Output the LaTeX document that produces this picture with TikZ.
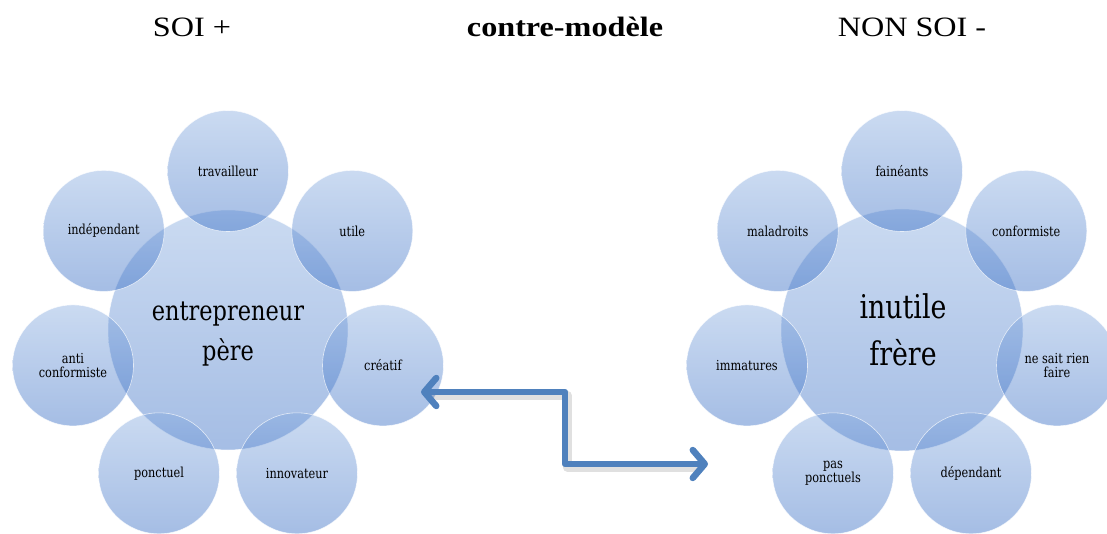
\documentclass[tikz,border=0pt]{standalone}
\usepackage{fontspec}
\setmainfont{Liberation Serif}
\newfontfamily\titlefont[FakeStretch=1.15]{Liberation Serif}
\newfontfamily\circfont[FakeStretch=0.82]{DejaVu Serif}
\usetikzlibrary{arrows.meta}
\definecolor{arrowblue}{RGB}{79,129,189}
\definecolor{ctop}{RGB}{130,168,222}
\definecolor{cbot}{RGB}{40,98,192}
\tikzset{
  bubble/.style={circle, minimum size=#1, inner sep=0pt, top color=ctop, bottom color=cbot,
     fill opacity=0.42, draw=white, draw opacity=0.7, line width=0.6pt},
  small/.style={font=\circfont\fontsize{13.8}{14.5}\selectfont, align=center, text=black, inner sep=0pt},
  bigl/.style={font=\circfont\fontsize{27.4}{30}\selectfont, anchor=base, text=black, inner sep=0pt},
  bigr/.style={font=\circfont\fontsize{32.7}{36}\selectfont, anchor=base, text=black, inner sep=0pt},
  title/.style={font=\titlefont\fontsize{28}{32}\selectfont, anchor=base, inner sep=0pt},
  link/.style={draw=arrowblue, line width=6.5pt, line join=round,
     {Straight Barb[length=12pt,width=28pt,round]}-{Straight Barb[length=12pt,width=28pt,round]}},
  linkshadow/.style={draw=black, draw opacity=0.12, line width=9pt, line join=round}
}
\begin{document}
\begin{tikzpicture}[x=1pt,y=-1pt]
\useasboundingbox (0,0) rectangle (1107,534);
\clip (0,0) rectangle (1107,534);
% titles
\node[title] (t1) at (192,36.7) {SOI +};
\node[title] (t2) at (565,36.7) {\bfseries contre-modèle};
\node[title] (t3) at (912,36.7) {NON SOI -};
% left cluster
\node[bubble=240pt] (LC) at (228,330) {};
\node[bubble=121pt] (L0) at (228,171) {};
\node[bubble=121pt] (L1) at (352.3,230.9) {};
\node[bubble=121pt] (L2) at (383,365.4) {};
\node[bubble=121pt] (L3) at (297,473.3) {};
\node[bubble=121pt] (L4) at (159,473.3) {};
\node[bubble=121pt] (L5) at (73,365.4) {};
\node[bubble=121pt] (L6) at (103.7,230.9) {};
% right cluster
\node[bubble=242pt] (RC) at (902,330) {};
\node[bubble=121pt] (R0) at (902,171) {};
\node[bubble=121pt] (R1) at (1026.3,230.9) {};
\node[bubble=121pt] (R2) at (1057,365.4) {};
\node[bubble=121pt] (R3) at (971,473.3) {};
\node[bubble=121pt] (R4) at (833,473.3) {};
\node[bubble=121pt] (R5) at (747,365.4) {};
\node[bubble=121pt] (R6) at (777.7,230.9) {};
% left labels
\node[bigl] (lc1) at (228,320.5) {entrepreneur};
\node[bigl] (lc2) at (228,360) {père};
\node[small] (l0) at (L0) {travailleur};
\node[small] (l1) at (L1) {utile};
\node[small] (l2) at (L2) {créatif};
\node[small] (l3) at (L3) {innovateur};
\node[small] (l4) at (L4) {ponctuel};
\node[small] (l5) at (L5) {anti\\conformiste};
\node[small] (l6) at (L6) {indépendant};
% right labels
\node[bigr] (rc1) at (903,318) {inutile};
\node[bigr] (rc2) at (903,365) {frère};
\node[small] (r0) at (R0) {fainéants};
\node[small] (r1) at (R1) {conformiste};
\node[small] (r2) at (R2) {ne sait rien\\faire};
\node[small] (r3) at (R3) {dépendant};
\node[small] (r4) at (R4) {pas\\ponctuels};
\node[small] (r5) at (R5) {immatures};
\node[small] (r6) at (R6) {maladroits};
% arrow
\coordinate (a1) at (421,392);
\coordinate (ak) at (565,464);
\coordinate (a2) at (708,464);
\coordinate (s1) at (430,395);
\coordinate (sk) at (567,467);
\coordinate (s2) at (700,467);
\draw[linkshadow] (s1) -| (sk) -- (s2);
\draw[link] (a1) -| (ak) -- (a2);
\end{tikzpicture}
\end{document}
